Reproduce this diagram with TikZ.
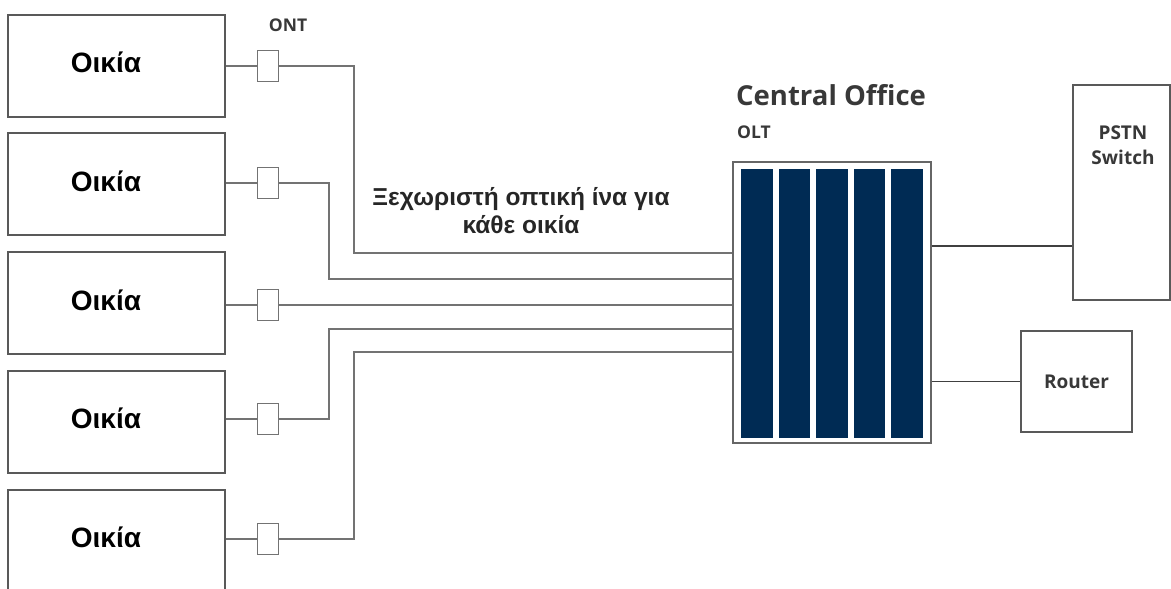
\documentclass[tikz,border=0pt]{standalone}
\usepackage{fontspec}
\setmainfont{Liberation Sans}
\newfontfamily\cofont{Open Sans}
\usetikzlibrary{positioning}
\definecolor{oltblue}{RGB}{0,43,84}

\begin{document}
\begin{tikzpicture}[x=1pt,y=-1pt,node distance=118.75pt,on grid,
	house/.style={draw=black!65,line width=2pt,minimum width=217pt,minimum height=102pt,inner sep=0pt},
	htext/.style={font=\bfseries\fontsize{28}{32}\selectfont,xshift=-10pt,yshift=3pt},
	ontbox/.style={draw=black!55,line width=1.6pt,fill=white,minimum width=21pt,minimum height=31pt,inner sep=0pt},
	fiber/.style={draw=black!55,line width=1.4pt},
	link/.style={draw=black!75,line width=1.4pt},
	lbl/.style={font=\cofont\bfseries\fontsize{17.5}{22}\selectfont,text=black!78,inner sep=0pt}]
	\useasboundingbox (0,0) rectangle (1171,589);
	\node[house,label={[htext]center:Οικία}] (h1) at (116,65.5)  {};
	\node[house,label={[htext]center:Οικία}] (h2) [below =of h1] {};
	\node[house,label={[htext]center:Οικία}] (h3) [below =of h2] {};
	\node[house,label={[htext]center:Οικία}] (h4) [below =of h3] {};
	\node[house,label={[htext]center:Οικία}] (h5) [below =of h4] {};
	\node[ontbox]         (o1) at (268,66)     {};
	\node[ontbox]         (o2) at (268,183)    {};
	\node[ontbox]         (o3) at (268,305)    {};
	\node[ontbox]         (o4) at (268,419)    {};
	\node[ontbox]         (o5) at (268,539)    {};
	\node[lbl]            (ont) at (288,25)    {ONT};
	\node[draw=black!60,line width=1.6pt,minimum width=198pt,minimum height=281pt,inner sep=0pt] (olt) at (832,302.5) {};
	\foreach \i in {0,...,4}
		\fill[oltblue] (741+37.5*\i,169) rectangle ++(31.5,269);
	\node[lbl,anchor=base west] (oltl) at (737,138) {OLT};
	\node[lbl,anchor=base west,font=\cofont\bfseries\fontsize{27.5}{30}\selectfont] (co) at (736,105) {Central Office};
	\node[draw=black!65,line width=1.6pt,minimum width=97pt,minimum height=215pt,inner sep=0pt] (pstn) at (1121.5,192.5) {};
	\node[lbl,align=center,font=\cofont\bfseries\fontsize{19}{25}\selectfont] (pstnl) at (1123,145) {PSTN\\Switch};
	\node[draw=black!65,line width=1.6pt,minimum width=111pt,minimum height=101pt,inner sep=0pt,lbl,font=\cofont\bfseries\fontsize{19}{24}\selectfont] (rtr) at (1076.5,381.5) {Router};
	\node[align=center,font=\bfseries\fontsize{24.5}{28}\selectfont,text=black!85] (sep) at (521,211) {Ξεχωριστή οπτική ίνα για\\κάθε οικία};
	\foreach \n/\bx/\y in {1/354/253,2/329/279,3/329/305,4/329/329,5/354/352}
		\draw[fiber] (h\n.east |- o\n) -- (o\n.west) (o\n.east) -| (\bx,\y) -- (olt.west |- 0,\y);
	\draw[link] (olt.east |- 0,246) -- (pstn.west |- 0,246);
	\draw[link] (olt.east |- rtr) -- (rtr.west);
\end{tikzpicture}
\end{document}
